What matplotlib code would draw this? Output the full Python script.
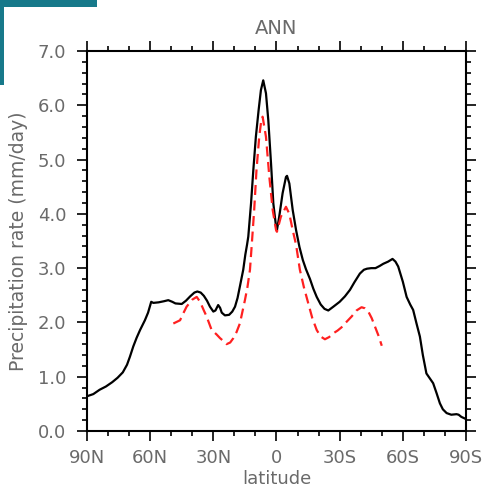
import matplotlib
matplotlib.use("Agg")
import matplotlib.pyplot as plt
from matplotlib.patches import Rectangle

# Zonal-mean annual precipitation (mm/day) by latitude
lat_obs = [90, 87, 84, 81, 78, 75.5, 73, 71, 69.6, 68, 66.4, 64.8, 62.5, 61, 59.5,
           58.5, 56, 53.5, 51.4, 49.5, 48, 45, 43, 41, 39, 37.6, 36, 34.5, 33, 31.6,
           30, 29, 27.7, 26.8, 26, 24.5, 22.5, 21, 19.7, 18.5, 17.4, 15.8, 14.8, 14.0,
           13.4, 12.1, 11.0, 9.8, 8.5, 7.4, 6.3, 5.0, 3.9, 2.6, 1.5, 0.2, -0.2, -1.3,
           -2.9, -4.5, -5.0, -6.1, -7.7, -9.3, -10.9, -12.5, -14, -15.9, -17.5, -19.1,
           -21, -22.8, -24.6, -27, -30, -32.5, -34.9, -37, -39.6, -41.5, -43, -45, -47,
           -49, -50.7, -53, -55.1, -56.5, -57.8, -60, -61.8, -63.5, -64.9, -66.5, -68.1,
           -69.5, -71.2, -72.8, -74.4, -76, -77.6, -79, -80.8, -83, -85.5, -86.5, -87.8,
           -90]
prec_obs = [0.64, 0.68, 0.76, 0.82, 0.90, 0.98, 1.08, 1.22, 1.37, 1.56, 1.72, 1.86,
            2.04, 2.18, 2.38, 2.36, 2.37, 2.39, 2.41, 2.38, 2.35, 2.34, 2.40, 2.48,
            2.55, 2.57, 2.55, 2.49, 2.40, 2.29, 2.20, 2.22, 2.32, 2.27, 2.18, 2.13,
            2.14, 2.20, 2.29, 2.45, 2.66, 2.97, 3.25, 3.43, 3.58, 4.19, 4.81, 5.42,
            5.91, 6.28, 6.46, 6.22, 5.73, 4.93, 4.19, 3.76, 3.70, 3.95, 4.38, 4.68,
            4.70, 4.56, 4.07, 3.70, 3.39, 3.15, 2.98, 2.80, 2.62, 2.47, 2.33, 2.25,
            2.22, 2.29, 2.38, 2.48, 2.60, 2.74, 2.90, 2.97, 2.99, 3.00, 3.00, 3.04,
            3.08, 3.12, 3.17, 3.12, 3.03, 2.75, 2.47, 2.33, 2.23, 1.98, 1.74, 1.40,
            1.06, 0.97, 0.88, 0.70, 0.51, 0.40, 0.33, 0.30, 0.31, 0.30, 0.26, 0.22]

lat_mod = [49.0, 45.8, 44.5, 42.7, 40, 37.9, 36.3, 34.5, 33.2, 30.8, 28.5, 26.8, 25,
           23.7, 22, 20.5, 19, 17.4, 15.0, 13.8, 12.6, 11.7, 10.6, 9.5, 8.2, 7.3, 6.6,
           5.0, 3.4, 1.8, 0.2, -0.2, -2.1, -4.5, -6.1, -7.7, -9.3, -11.1, -13, -15.1,
           -17, -19.1, -21, -23.0, -25, -27.0, -29, -30.9, -33, -35.7, -38, -40.4, -42,
           -43.6, -45.2, -46.8, -48.5, -50.0]
prec_mod = [1.98, 2.04, 2.15, 2.29, 2.42, 2.47, 2.38, 2.22, 2.11, 1.86, 1.78, 1.71,
            1.65, 1.60, 1.63, 1.71, 1.82, 1.98, 2.41, 2.65, 2.97, 3.46, 4.07, 4.81,
            5.42, 5.70, 5.79, 5.42, 4.68, 4.07, 3.70, 3.67, 3.95, 4.13, 4.00, 3.70,
            3.43, 2.97, 2.65, 2.35, 2.08, 1.86, 1.74, 1.69, 1.73, 1.80, 1.85, 1.91,
            2.00, 2.11, 2.22, 2.28, 2.26, 2.20, 2.08, 1.92, 1.75, 1.57]

xticks = [90, 60, 30, 0, -30, -60, -90]
xticklabels = ["90N", "60N", "30N", "0", "30S", "60S", "90S"]
yticks = [0, 1, 2, 3, 4, 5, 6, 7]
yticklabels = ["0.0", "1.0", "2.0", "3.0", "4.0", "5.0", "6.0", "7.0"]

W, H = 485, 497
fig = plt.figure(figsize=(W / 100, H / 100), dpi=100)
fig.patch.set_facecolor("white")

# teal corner ornament
fig.patches.append(Rectangle((0, 1 - 7 / H), 97 / W, 7 / H, transform=fig.transFigure,
                             facecolor="#17798a", edgecolor="none"))
fig.patches.append(Rectangle((0, 1 - 85 / H), 4 / W, 85 / H, transform=fig.transFigure,
                             facecolor="#17798a", edgecolor="none"))

ax = fig.add_axes([87 / W, (H - 431) / H, 379 / W, 380 / H])

ax.plot(lat_obs, prec_obs, color="black", lw=1.6, solid_joinstyle="round")
ax.plot(lat_mod, prec_mod, color="#ff2020", lw=1.6, linestyle=(0, (4.5, 2.5)))

ax.set_xlim(90, -90)
ax.set_ylim(0, 7)

txt = "#6a6a6a"
ax.set_xticks(xticks)
ax.set_xticklabels(xticklabels)
ax.set_xticks(list(range(80, -90, -10)), minor=True)
ax.set_yticks(yticks)
ax.set_yticklabels(yticklabels)
ax.set_yticks([v / 5 for v in range(0, 36)], minor=True)

for s in ax.spines.values():
    s.set_linewidth(1.5)
ax.tick_params(which="both", direction="out", top=True, right=True,
               colors="black", labelcolor=txt, labelsize=13, width=1.2)
ax.tick_params(which="major", length=7, pad=6)
ax.tick_params(axis="y", which="major", pad=8)
ax.tick_params(which="minor", length=3.5)

ax.set_title("ANN", color=txt, fontsize=14, pad=12)
ax.set_xlabel("latitude", color=txt, fontsize=13, labelpad=2)
ax.set_ylabel("Precipitation rate (mm/day)", color=txt, fontsize=13.5, labelpad=7)

fig.savefig("out.png", dpi=100)
